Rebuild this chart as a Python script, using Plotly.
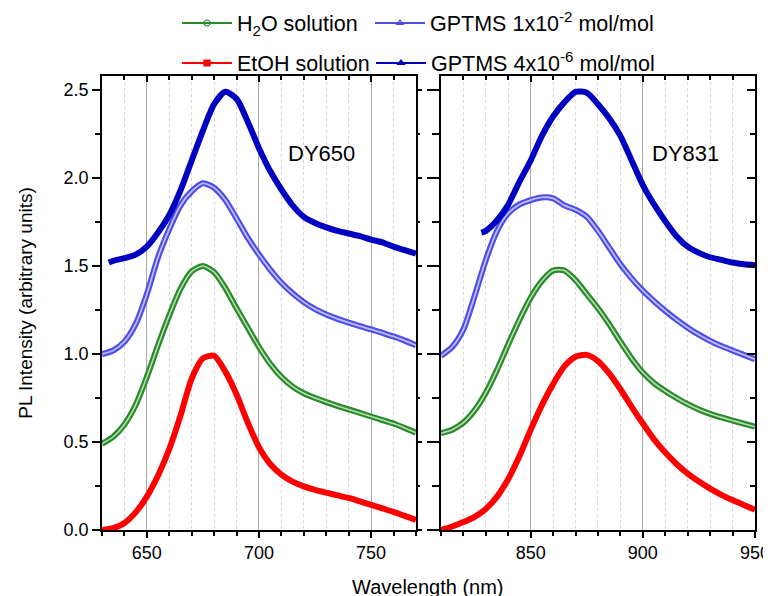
import plotly.graph_objects as go

# ---------------- data ----------------
wl_650 = [630, 635, 640, 645, 650, 655, 660, 665, 670, 675, 680, 685, 690, 695, 700,
          705, 710, 715, 720, 725, 730, 735, 740, 745, 750, 755, 760, 765, 770]
etoh_650 = [0.0, 0.01, 0.04, 0.10, 0.19, 0.31, 0.46, 0.65, 0.86, 0.975, 0.99, 0.90, 0.77, 0.61, 0.47,
            0.375, 0.315, 0.275, 0.248, 0.228, 0.212, 0.197, 0.182, 0.163, 0.143, 0.123, 0.103, 0.08, 0.057]
h2o_650 = [0.49, 0.53, 0.60, 0.71, 0.87, 1.05, 1.22, 1.37, 1.47, 1.50, 1.465, 1.375, 1.26, 1.15, 1.04,
           0.945, 0.87, 0.815, 0.777, 0.75, 0.727, 0.705, 0.685, 0.665, 0.645, 0.625, 0.605, 0.58, 0.553]
gp1_650 = [1.0, 1.02, 1.07, 1.17, 1.34, 1.55, 1.71, 1.845, 1.925, 1.97, 1.945, 1.875, 1.77, 1.66, 1.565,
           1.48, 1.405, 1.345, 1.295, 1.255, 1.225, 1.20, 1.178, 1.158, 1.14, 1.12, 1.10, 1.076, 1.05]
wl_650_gp4 = [633, 635, 640, 645, 650, 655, 660, 665, 670, 675, 680, 685, 690, 695, 700,
              705, 710, 715, 720, 725, 730, 735, 740, 745, 750, 755, 760, 765, 770]
gp4_650 = [1.52, 1.53, 1.545, 1.565, 1.61, 1.69, 1.79, 1.93, 2.10, 2.27, 2.42, 2.49, 2.45, 2.32, 2.17,
           2.04, 1.935, 1.845, 1.78, 1.745, 1.72, 1.70, 1.685, 1.67, 1.65, 1.635, 1.61, 1.59, 1.57]

wl_831 = [810, 815, 820, 825, 830, 835, 840, 845, 850, 855, 860, 865, 870, 875, 880,
          885, 890, 895, 900, 905, 910, 915, 920, 925, 930, 935, 940, 945, 950]
etoh_831 = [0.0, 0.02, 0.045, 0.075, 0.12, 0.19, 0.29, 0.42, 0.57, 0.71, 0.83, 0.93, 0.985, 0.995, 0.96,
            0.89, 0.80, 0.70, 0.605, 0.515, 0.44, 0.375, 0.32, 0.275, 0.235, 0.20, 0.17, 0.142, 0.115]
h2o_831 = [0.55, 0.57, 0.61, 0.68, 0.78, 0.91, 1.055, 1.195, 1.32, 1.415, 1.475, 1.475, 1.42, 1.34, 1.26,
           1.17, 1.07, 0.975, 0.895, 0.835, 0.79, 0.75, 0.715, 0.685, 0.66, 0.64, 0.622, 0.604, 0.587]
gp1_831 = [0.99, 1.04, 1.14, 1.33, 1.535, 1.70, 1.80, 1.85, 1.875, 1.89, 1.885, 1.845, 1.82, 1.78, 1.70,
           1.605, 1.51, 1.43, 1.36, 1.30, 1.245, 1.195, 1.15, 1.11, 1.075, 1.045, 1.02, 0.995, 0.97]
wl_831_gp4 = [828, 830, 835, 840, 845, 850, 855, 860, 865, 870, 875, 880,
              885, 890, 895, 900, 905, 910, 915, 920, 925, 930, 935, 940, 945, 950]
gp4_831 = [1.69, 1.70, 1.76, 1.85, 1.98, 2.10, 2.24, 2.35, 2.43, 2.49, 2.485, 2.42,
           2.34, 2.24, 2.10, 1.96, 1.85, 1.755, 1.67, 1.61, 1.575, 1.55, 1.535, 1.52, 1.51, 1.505]

legend_names = ["H<sub>2</sub>O solution", "GPTMS 1x10<sup>-2</sup> mol/mol",
                "EtOH solution", "GPTMS 4x10<sup>-6</sup> mol/mol"]
panel_labels = ["DY650", "DY831"]

# ---------------- styles ----------------
C_GREEN = "#2a8a2a"
C_GREEN_IN = "#b8dcb8"
C_LBLUE = "#4c4ce6"
C_LBLUE_IN = "#bcbcf4"
C_RED = "#ff0000"
C_DBLUE = "#0000c0"
FONT = "Arial, Liberation Sans, sans-serif"

fig = go.Figure()

panels = [
    ("x", "y", wl_650, wl_650_gp4, etoh_650, h2o_650, gp1_650, gp4_650),
    ("x2", "y2", wl_831, wl_831_gp4, etoh_831, h2o_831, gp1_831, gp4_831),
]
for xa, ya, wl, wlb, et, h2, g1, g4 in panels:
    common = dict(xaxis=xa, yaxis=ya, mode="lines", showlegend=False, hoverinfo="skip")
    spl = dict(shape="spline", smoothing=0.7)
    fig.add_trace(go.Scatter(x=wl, y=et, line=dict(color=C_RED, width=6, **spl), **common))
    fig.add_trace(go.Scatter(x=wl, y=h2, line=dict(color=C_GREEN, width=6, **spl), **common))
    fig.add_trace(go.Scatter(x=wl, y=h2, line=dict(color=C_GREEN_IN, width=1.6, **spl), **common))
    fig.add_trace(go.Scatter(x=wl, y=g1, line=dict(color=C_LBLUE, width=6, **spl), **common))
    fig.add_trace(go.Scatter(x=wl, y=g1, line=dict(color=C_LBLUE_IN, width=1.8, **spl), **common))
    fig.add_trace(go.Scatter(x=wlb, y=g4, line=dict(color=C_DBLUE, width=6, **spl), **common))

# legend entries (one legend box per entry, arranged in a 2x2 grid)
leg_specs = [
    (legend_names[0], C_GREEN, "circle-open", "legend"),
    (legend_names[1], C_LBLUE, "triangle-up-open", "legend2"),
    (legend_names[2], C_RED, "square", "legend3"),
    (legend_names[3], C_DBLUE, "triangle-up", "legend4"),
]
for name, col, sym, leg in leg_specs:
    fig.add_trace(go.Scatter(x=[None], y=[None], name=name, mode="lines+markers",
                             line=dict(color=col, width=1.8),
                             marker=dict(symbol=sym, size=6, color=col, line=dict(color=col, width=1.2)),
                             legend=leg, xaxis="x", yaxis="y"))

# dummy traces to activate overlay axes (top / right ticks)
for xa, ya in [("x3", "y"), ("x4", "y2"), ("x", "y3"), ("x2", "y4")]:
    fig.add_trace(go.Scatter(x=[None], y=[None], xaxis=xa, yaxis=ya, showlegend=False,
                             hoverinfo="skip", mode="markers"))

axis_common = dict(showline=True, linecolor="black", linewidth=1.5, zeroline=False, automargin=False,
                   tickfont=dict(family=FONT, size=18, color="black"), tickcolor="black", tickwidth=1.5)

def xax(dom, rng, anchor):
    return dict(domain=dom, range=rng, anchor=anchor, dtick=50, tick0=0, ticks="outside", ticklen=6,
                showgrid=True, gridcolor="#a9a9a9", gridwidth=1, mirror=True,
                minor=dict(dtick=10, tick0=0, ticks="outside", ticklen=4, tickcolor="black",
                           showgrid=True, gridcolor="#d6d6d6", griddash="dot", gridwidth=1),
                **axis_common)

def xtop(over, rng, anchor):
    return dict(overlaying=over, side="top", anchor=anchor, range=rng, dtick=50, tick0=0,
                ticks="inside", ticklen=6, showticklabels=False, showgrid=False, automargin=False,
                minor=dict(dtick=10, tick0=0, ticks="inside", ticklen=4, tickcolor="black", showgrid=False),
                showline=False, zeroline=False, tickcolor="black", tickwidth=1.5)

def yside(over, anchor, side, ticks, tl):
    return dict(overlaying=over, side=side, anchor=anchor, range=[0, 2.58], dtick=0.5,
                ticks=ticks, ticklen=tl, showticklabels=False, showgrid=False, automargin=False,
                minor=dict(dtick=0.25, ticks=ticks, ticklen=tl * 0.6, tickcolor="black"),
                showline=False, zeroline=False, tickcolor="black", tickwidth=1.5)

XD1 = [0, 0.4808]
XD2 = [0.5191, 1]

# the page body adds an 8 px offset; figure coordinates below compensate for it
def leg(x_px, y_px):
    return dict(orientation="h", xref="container", yref="container", x=x_px / 771, y=1 - y_px / 596,
                xanchor="left", yanchor="middle", itemwidth=50,
                font=dict(family=FONT, size=21.5, color="black"), bgcolor="rgba(0,0,0,0)")

fig.update_layout(
    width=771, height=596,
    margin=dict(l=94, r=24, t=68, b=74, autoexpand=False),
    paper_bgcolor="white", plot_bgcolor="white",
    font=dict(family=FONT, color="black"),
    xaxis=xax(XD1, [630, 770], "y"),
    xaxis2=xax(XD2, [810, 950], "y2"),
    xaxis3=xtop("x", [630, 770], "y"),
    xaxis4=xtop("x2", [810, 950], "y2"),
    yaxis=dict(domain=[0, 1], range=[0, 2.58], anchor="x", dtick=0.5, tickformat=".1f",
               ticks="outside", ticklen=8, showgrid=False, mirror=True,
               minor=dict(dtick=0.25, ticks="outside", ticklen=5, tickcolor="black"),
               title=dict(text="PL Intensity (arbitrary units)", font=dict(family=FONT, size=19),
                          standoff=26),
               **axis_common),
    yaxis2=dict(domain=[0, 1], range=[0, 2.58], anchor="x2", dtick=0.5, ticks="outside", ticklen=12,
                showticklabels=False, showgrid=False, mirror=True,
                minor=dict(dtick=0.25, ticks="outside", ticklen=7, tickcolor="black"),
                **axis_common),
    yaxis3=yside("y", "x", "right", "outside", 5),
    yaxis4=yside("y2", "x2", "right", "inside", 8),
    legend=leg(169, 15),
    legend2=leg(362, 15),
    legend3=leg(169, 55),
    legend4=leg(363, 55),
    annotations=[
        dict(text=panel_labels[0], x=728, y=2.14, xref="x", yref="y", showarrow=False,
             font=dict(family=FONT, size=22, color="black")),
        dict(text=panel_labels[1], x=919, y=2.14, xref="x2", yref="y2", showarrow=False,
             font=dict(family=FONT, size=22, color="black")),
        dict(text="Wavelength (nm)", x=0.4992, y=-0.125, xref="paper", yref="paper",
             showarrow=False, yanchor="middle", font=dict(family=FONT, size=20, color="black")),
    ],
)

fig.write_html("out.html")
